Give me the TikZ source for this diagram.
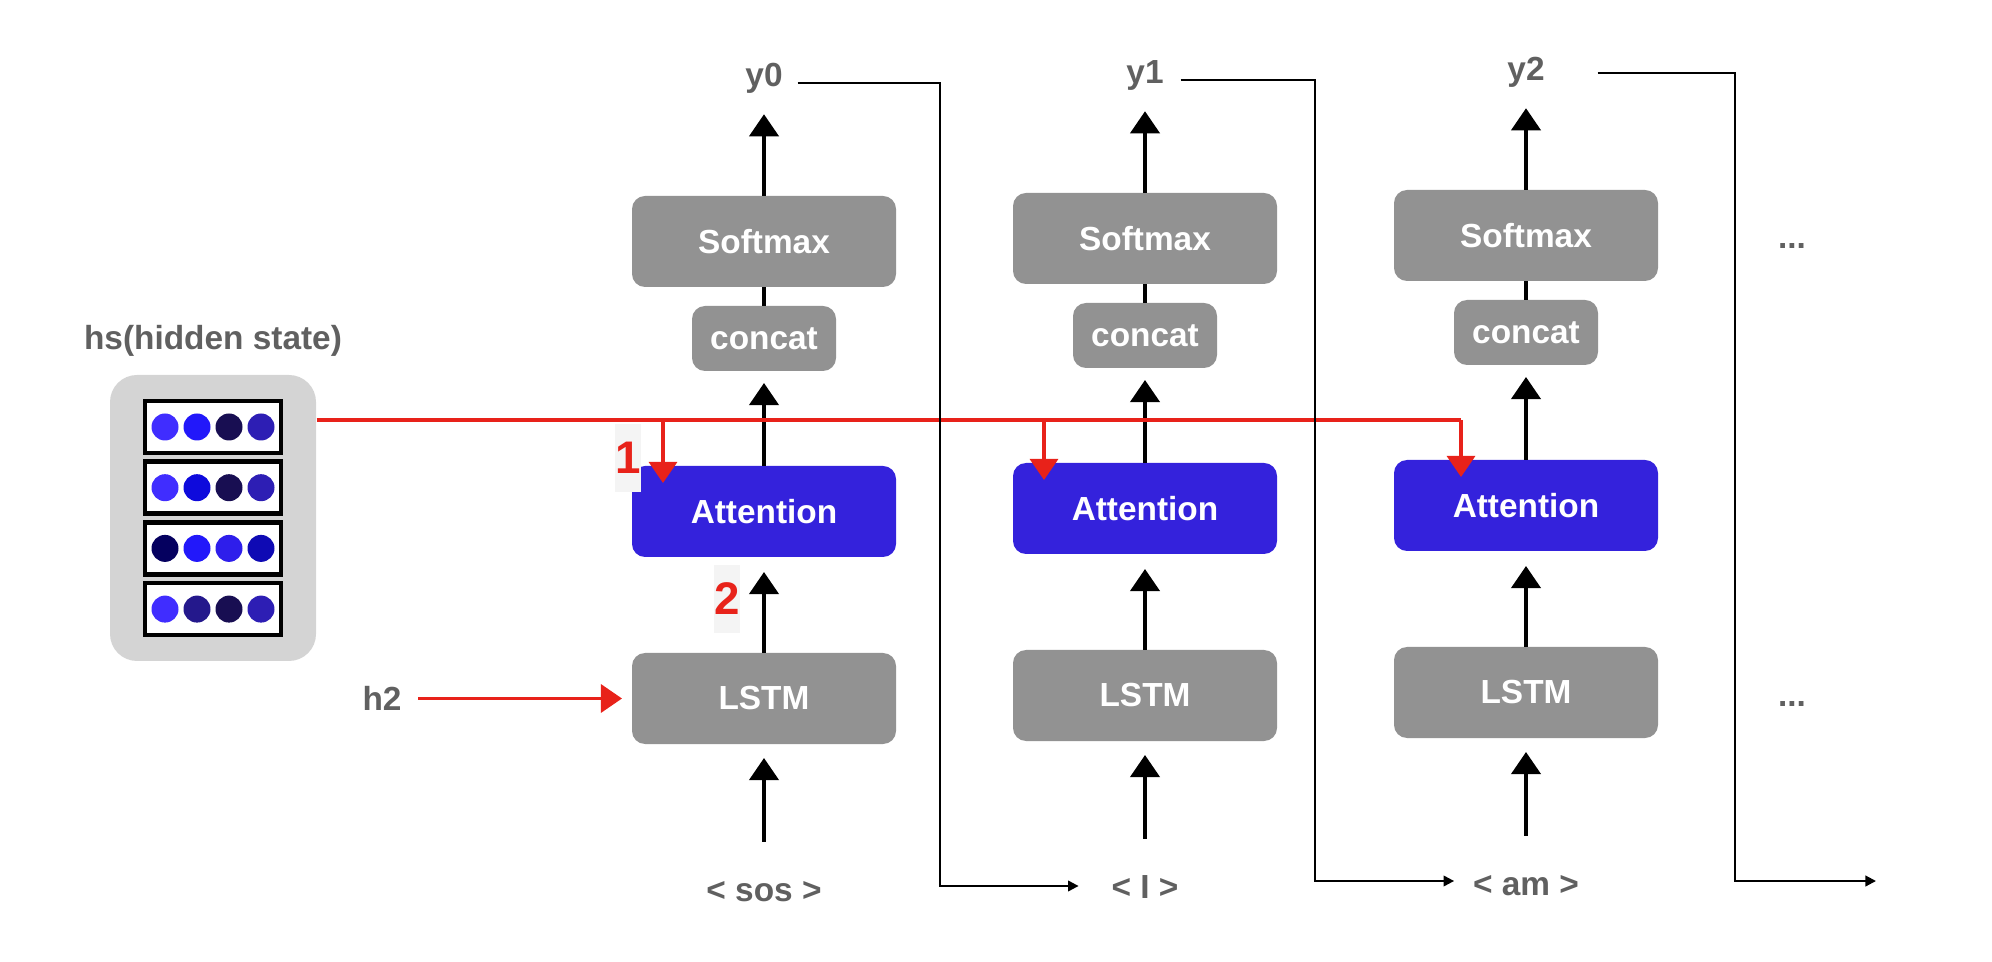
\documentclass[tikz,border=0pt]{standalone}
\usepackage{fontspec}
\setmainfont{Liberation Sans}
\usepackage{tikz}
\usepackage{xcolor}
\usetikzlibrary{arrows.meta, positioning, calc}

\definecolor{boxgray}{RGB}{146,146,146}
\definecolor{attblue}{RGB}{52,34,220}
\definecolor{labelgray}{RGB}{96,96,96}
\definecolor{hsgray}{RGB}{212,212,212}
\definecolor{markred}{RGB}{232,34,26}
\definecolor{tagbg}{RGB}{244,244,244}
\definecolor{vecA}{RGB}{64,45,255}
\definecolor{vecB}{RGB}{34,24,250}
\definecolor{vecC}{RGB}{24,14,82}
\definecolor{vecD}{RGB}{45,30,180}
\definecolor{vecE}{RGB}{14,10,220}
\definecolor{vecF}{RGB}{5,0,95}
\definecolor{vecG}{RGB}{46,30,235}
\definecolor{vecH}{RGB}{15,10,180}
\definecolor{vecI}{RGB}{36,24,140}

\tikzset{
    unit/.style={rectangle, rounded corners=1.3mm, fill=boxgray, text=white,
        inner sep=0pt, outer sep=0pt, minimum width=2.64cm, minimum height=0.91cm,
        font=\bfseries\fontsize{9.5}{11}\selectfont},
    attunit/.style={unit, fill=attblue},
    smallunit/.style={unit, minimum width=1.44cm, minimum height=0.65cm},
    word/.style={text=labelgray, inner sep=0pt, outer sep=0pt, text height=1.5ex,
        text depth=.25ex, font=\bfseries\fontsize{9.5}{11}\selectfont},
    numtag/.style={fill=tagbg, text=markred, inner xsep=0pt, minimum height=0.68cm,
        font=\bfseries\fontsize{13}{15}\selectfont},
    vecbox/.style={rectangle, draw=black, line width=1.3pt, fill=white,
        minimum width=1.36cm, minimum height=0.52cm},
    flow/.style={line width=1.1pt, -{Triangle[length=6.3pt, width=8.3pt]}},
    feed/.style={line width=0.6pt, -{Triangle[length=3pt, width=3pt]}},
    redflow/.style={markred, line width=0.9pt},
    redarrow/.style={redflow, -{Triangle[length=6pt, width=8pt]}}
}

\begin{document}
\begin{tikzpicture}
    \useasboundingbox (0,0) rectangle (19.92,-9.62);

    % =========================================================
    % ENCODER HIDDEN STATES
    % =========================================================
    \node[rectangle, rounded corners=2.7mm, fill=hsgray, minimum width=2.06cm,
        minimum height=2.86cm] (hsbox) at (2.13,-5.18) {};
    \node[word, above=2mm of hsbox] (hstitle) {hs(hidden state)};
    \foreach \r/\ca/\cb/\cc/\cd in {0/vecA/vecB/vecC/vecD, 1/vecA/vecE/vecC/vecD,
                                    2/vecF/vecB/vecG/vecH, 3/vecA/vecI/vecC/vecD} {
        \node[vecbox] (vec\r) at (2.13,-4.27-0.607*\r) {};
        \foreach \k/\cl in {0/\ca, 1/\cb, 2/\cc, 3/\cd}
            \fill[fill=\cl] ($(vec\r.center)+(-0.48+0.32*\k,0)$) circle (0.135);
    }

    % =========================================================
    % DECODER TIME STEPS
    % =========================================================
    \foreach \c/\x/\dy/\off/\ytxt/\wtxt in {0/7.64/0/-1.01/y0/{< sos >},
                                            1/11.45/0.03/-1.01/y1/{< I >},
                                            2/15.26/0.06/-0.65/y2/{< am >}} {
        \node[unit] (lstm\c) at (\x,-6.985+\dy) {LSTM};
        \node[attunit, above=0.96cm of lstm\c] (att\c) {Attention};
        \node[smallunit, above=0.95cm of att\c] (concat\c) {concat};
        \node[unit, above=0.19cm of concat\c] (soft\c) {Softmax};
        \node[word] (out\c) at (\x,-0.75+\dy) {\ytxt};
        \node[word] (in\c) at (\x,-8.90+\dy) {\wtxt};

        \draw[flow, shorten <=0.32cm, shorten >=0.14cm] (in\c) -- (lstm\c);
        \draw[flow, shorten >=0.15cm] (lstm\c) -- (att\c);
        \draw[flow, shorten >=0.12cm] (att\c) -- (concat\c);
        \draw[line width=1.1pt] (concat\c) -- (soft\c);
        \draw[flow, shorten >=0.23cm] (soft\c) -- (out\c);

        \coordinate (drop\c) at ($(att\c.north)+(\off,0)$);
    }

    % =========================================================
    % ATTENTION INPUTS (RED)
    % =========================================================
    \coordinate (bus) at (0,-4.20);
    \draw[redflow] (hsbox.east |- bus) -- (drop2 |- bus);
    \foreach \c in {0,1,2}
        \draw[redarrow] (drop\c |- bus) -- ([yshift=-1.7mm]drop\c);

    \node[word] (h2) at (3.82,-6.985) {h2};
    \draw[redarrow, shorten <=0.17cm, shorten >=0.10cm] (h2) -- (lstm0);

    \node[numtag] (tag1) at (6.28,-4.58) {1};
    \node[numtag] (tag2) at (7.27,-5.99) {2};

    % =========================================================
    % OUTPUT FED BACK AS NEXT INPUT
    % =========================================================
    \coordinate (fb0a) at (9.40,-0.83);
    \coordinate (fb0b) at (9.40,-8.86);
    \coordinate (fb1a) at (13.15,-0.80);
    \coordinate (fb1b) at (13.15,-8.81);
    \coordinate (fb2a) at (17.35,-0.73);
    \coordinate (fb2b) at (17.35,-8.81);
    \coordinate (fbend) at (18.76,-8.81);

    \draw[feed, shorten <=0.15cm, shorten >=0.33cm] (out0.east |- fb0a) -- (fb0a) -- (fb0b) -- (in1.west |- fb0b);
    \draw[feed, shorten <=0.17cm, shorten >=0.19cm] (out1.east |- fb1a) -- (fb1a) -- (fb1b) -- (in2.west |- fb1b);
    \draw[feed, shorten <=0.53cm] (out2.east |- fb2a) -- (fb2a) -- (fb2b) -- (fbend);

    \node[word] (more1) at (17.92,-2.37) {...};
    \node[word] (more2) at (17.92,-6.95) {...};
\end{tikzpicture}
\end{document}
